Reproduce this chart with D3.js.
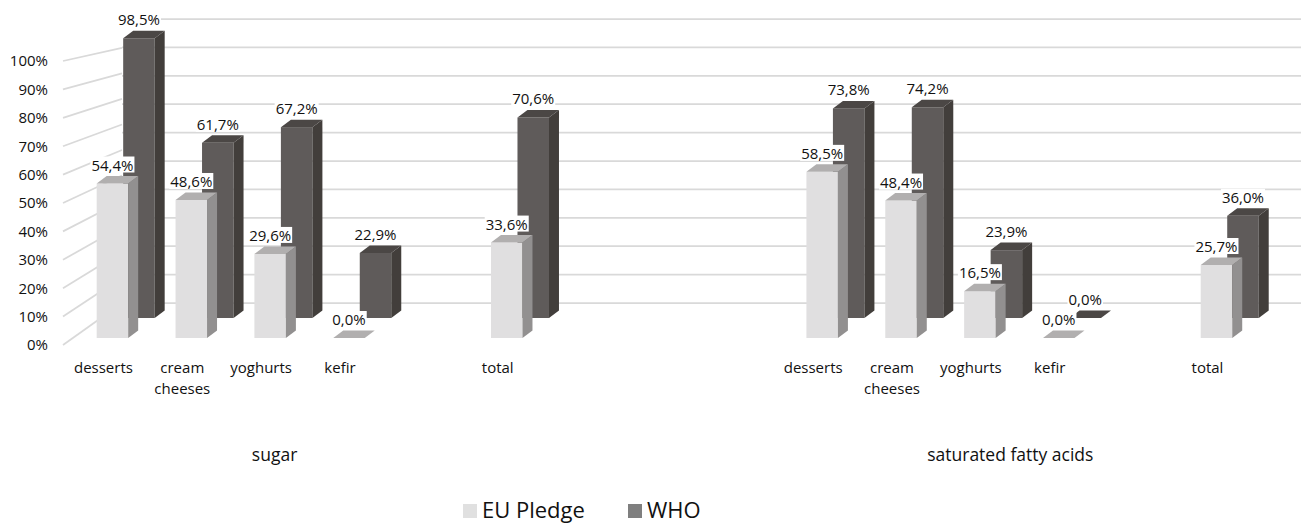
<!DOCTYPE html>
<html>
<head>
<meta charset="utf-8">
<script src="https://cdn.jsdelivr.net/npm/d3@7"></script>
<style>
  body { margin: 0; background: #fff; }
  svg { display: block; font-family: "Open Sans", sans-serif; }
</style>
</head>
<body>
<svg id="chart" width="1301" height="524"></svg>
<script>
// categories, with the empty spacer slots the original sheet has
var categories = ['desserts', 'cream cheeses', 'yoghurts', 'kefir', '', 'total', '', '', '',
  'desserts', 'cream cheeses', 'yoghurts', 'kefir', '', 'total'];
var euPledge = [54.4, 48.6, 29.6, 0.0, null, 33.6, null, null, null, 58.5, 48.4, 16.5, 0.0, null, 25.7];
var who = [98.5, 61.7, 67.2, 22.9, null, 70.6, null, null, null, 73.8, 74.2, 23.9, 0.0, null, 36.0];
var groupNames = ['sugar', 'saturated fatty acids'];
var groupFirst = [0, 9];
var groupLast = [5, 14];
var seriesNames = ['EU Pledge', 'WHO'];
var yTicks = [0, 10, 20, 30, 40, 50, 60, 70, 80, 90, 100];

var svg = d3.select('#chart');

// front edge of the floor and the back wall
var floorY = 345;
var wallLeft = 63;
var backX = 122;
var backFloorY = 303;

var x = d3.scaleBand()
  .domain(d3.range(categories.length))
  .range([64, 64 + categories.length * 78.86])
  .padding(0);
var h = d3.scaleLinear().domain([0, 100]).range([0, 284]);
var yFront = d3.scaleLinear().domain([0, 100]).range([floorY, floorY - 284]);
var yBack = d3.scaleLinear().domain([0, 100]).range([backFloorY, backFloorY - 284]);

// perspective of the side wall
var vanishY = -67;
var shrink = 0.898;

var rows = [
  { name: 'WHO', values: who, dx: 35.5, dy: -27,
    front: '#5f5b5a', side: '#423e3b', top: '#4b4745', legend: '#7f7f7f' },
  { name: 'EU Pledge', values: euPledge, dx: 9, dy: -7,
    front: '#e0dfe0', side: '#929090', top: '#b1afaf', legend: '#e0e0e0' }
];
var barW = 31.5;
var depth = { dx: 10, dy: -7.5 };

var grid = svg.append('g').attr('class', 'grid')
  .attr('stroke', '#d9d9d9').attr('stroke-width', 1.75).attr('fill', 'none');

grid.selectAll('.side')
  .data(yTicks)
  .enter()
  .append('line')
  .classed('side', true)
  .attr('x1', wallLeft)
  .attr('y1', yFront)
  .attr('x2', backX)
  .attr('y2', function(d) { return vanishY + (yFront(d) - vanishY) * shrink; });

grid.selectAll('.back')
  .data(yTicks)
  .enter()
  .append('line')
  .classed('back', true)
  .attr('x1', backX)
  .attr('y1', yBack)
  .attr('x2', 1301)
  .attr('y2', yBack);

// y axis labels on the front edge
var yAxis = svg.append('g')
  .attr('transform', 'translate(52,0)')
  .call(d3.axisLeft(yFront).tickValues(yTicks).tickSize(0).tickPadding(4)
    .tickFormat(function(d) { return d + '%'; }));
yAxis.select('.domain').remove();
yAxis.selectAll('text')
  .attr('font-family', '"Open Sans", sans-serif')
  .attr('font-size', 15)
  .attr('fill', '#111');

function barData(row) {
  return row.values
    .map(function(v, i) { return { v: v, i: i }; })
    .filter(function(d) { return d.v !== null; })
    .map(function(d) {
      var left = x(d.i) + x.bandwidth() / 2 + row.dx - barW / 2;
      var base = floorY + row.dy;
      return { v: d.v, i: d.i, left: left, base: base, topY: base - h(d.v) };
    });
}

function faceTop(d) {
  return [[d.left, d.topY], [d.left + barW, d.topY],
    [d.left + barW + depth.dx, d.topY + depth.dy], [d.left + depth.dx, d.topY + depth.dy]];
}
function faceSide(d) {
  return [[d.left + barW, d.topY], [d.left + barW + depth.dx, d.topY + depth.dy],
    [d.left + barW + depth.dx, d.base + depth.dy], [d.left + barW, d.base]];
}
function pts(p) { return p.map(function(q) { return q.join(','); }).join(' '); }

var labels = [];
rows.forEach(function(row) {
  var data = barData(row);
  var g = svg.append('g').attr('class', 'bars-' + row.name.replace(' ', ''));
  var bar = g.selectAll('g').data(data).enter().append('g');
  bar.filter(function(d) { return d.v > 0; })
    .append('rect')
    .attr('x', function(d) { return d.left; })
    .attr('y', function(d) { return d.topY; })
    .attr('width', barW)
    .attr('height', function(d) { return d.base - d.topY; })
    .attr('fill', row.front);
  bar.filter(function(d) { return d.v > 0; })
    .append('polygon')
    .attr('points', function(d) { return pts(faceSide(d)); })
    .attr('fill', row.side);
  bar.append('polygon')
    .attr('points', function(d) { return pts(faceTop(d)); })
    .attr('fill', row.top);
  data.forEach(function(d) {
    labels.push({ x: d.left + barW / 2, y: d.topY - 13, text: d3.format('.1f')(d.v).replace('.', ',') + '%' });
  });
});

// data labels sit on white boxes
var lab = svg.append('g').attr('class', 'labels')
  .selectAll('g').data(labels).enter().append('g');
lab.append('text')
  .attr('x', function(d) { return d.x; })
  .attr('y', function(d) { return d.y; })
  .attr('text-anchor', 'middle')
  .attr('font-size', 15)
  .attr('fill', '#111')
  .text(function(d) { return d.text; });
lab.each(function() {
  var t = d3.select(this).select('text');
  var b = t.node().getBBox();
  d3.select(this).insert('rect', 'text')
    .attr('x', b.x - 1).attr('y', b.y + 2)
    .attr('width', b.width + 2).attr('height', b.height - 4)
    .attr('fill', '#fff');
});

// category labels, wrapped onto two lines
var cat = svg.append('g').attr('class', 'categories')
  .selectAll('text')
  .data(categories.map(function(c, i) { return { c: c, i: i }; })
    .filter(function(d) { return d.c !== ''; }))
  .enter()
  .append('text')
  .attr('text-anchor', 'middle')
  .attr('font-size', 15)
  .attr('fill', '#111')
  .attr('transform', function(d) {
    return 'translate(' + (x(d.i) + x.bandwidth() / 2) + ',373)';
  });
cat.selectAll('tspan')
  .data(function(d) { return d.c.split(' '); })
  .enter()
  .append('tspan')
  .attr('x', 0)
  .attr('dy', function(d, i) { return i ? 21 : 0; })
  .text(function(d) { return d; });

// group labels
var groupNudge = [-26, 0];
svg.append('g').attr('class', 'groups')
  .selectAll('text')
  .data(groupNames)
  .enter()
  .append('text')
  .attr('x', function(d, i) {
    var a = x(groupFirst[i]) + x.bandwidth() / 2;
    var b = x(groupLast[i]) + x.bandwidth() / 2;
    return (a + b) / 2 + groupNudge[i];
  })
  .attr('y', 461)
  .attr('text-anchor', 'middle')
  .attr('font-size', 17.5)
  .attr('fill', '#111')
  .text(function(d) { return d; });

// legend
var legendX = d3.scaleOrdinal().domain(seriesNames).range([463, 628]);
var legend = svg.append('g').attr('class', 'legend')
  .selectAll('g')
  .data(seriesNames)
  .enter()
  .append('g')
  .attr('transform', function(d) { return 'translate(' + legendX(d) + ',0)'; });
legend.append('rect')
  .attr('y', 504)
  .attr('width', 14)
  .attr('height', 14)
  .attr('fill', function(d) {
    return rows.filter(function(r) { return r.name === d; })[0].legend;
  });
legend.append('text')
  .attr('x', 19)
  .attr('y', 518)
  .attr('font-size', 22)
  .attr('fill', '#111')
  .text(function(d) { return d; });
</script>
</body>
</html>
